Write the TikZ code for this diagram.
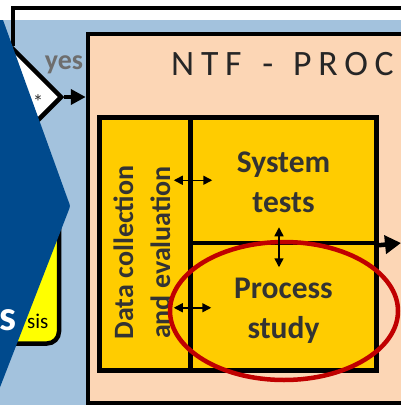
\documentclass[tikz,border=0pt]{standalone}
\usepackage{fontspec}
\setmainfont{Carlito}
\usetikzlibrary{shapes.geometric,arrows.meta,calc}
\definecolor{panelblue}{RGB}{163,194,221}
\definecolor{chevblue}{RGB}{0,74,141}
\definecolor{ntfpeach}{RGB}{252,214,181}
\definecolor{stageyellow}{RGB}{255,204,0}
\definecolor{memoyellow}{RGB}{255,255,0}
\definecolor{hlred}{RGB}{192,0,0}
\definecolor{yesgray}{RGB}{110,110,110}
\definecolor{textdark}{RGB}{51,51,51}
\definecolor{titlegray}{RGB}{38,38,38}

\begin{document}
\begin{tikzpicture}[x=1pt,y=-1pt]
		\tikzstyle{frame}=[draw, line width=4.5pt, inner sep=0pt];
		\tikzstyle{stage}=[frame, fill=stageyellow];
		\tikzstyle{stage_text}=[align=center, inner sep=0pt, text=textdark, font=\bfseries\fontsize{31.5}{40}\selectfont];
		\tikzstyle{link}=[line width=1.5pt, {Triangle[length=9pt,width=9pt]}-{Triangle[length=9pt,width=9pt]}];
		\tikzstyle{flow}=[line width=4.5pt];

		\useasboundingbox (0,0) rectangle (401,405);
		\clip (0,0) rectangle (401,405);
		\fill[white] (0,0) rectangle (401,20);
		\fill[panelblue] (0,20) rectangle (401,405);

		% process frame
		\node[frame, fill=ntfpeach, minimum width=332pt, minimum height=369pt] (ntf) at (254,218.5) {};
		\node[anchor=base west, inner sep=0pt, text=titlegray, font=\fontsize{35.7}{40}\selectfont\addfontfeature{LetterSpace=19}] (ntf_title) at (171,75) {NTF\hspace{6pt} -\hspace{5pt} PROC};

		\node[stage, minimum width=91pt, minimum height=253pt] (box_data) at (145,244) {};
		\node[stage, minimum width=186pt, minimum height=125.5pt] (box_sys) at (283.5,180.25) {};
		\node[stage, minimum width=186pt, minimum height=127.5pt] (box_proc) at (283.5,306.75) {};
		\node[stage_text, rotate=90, font=\bfseries\fontsize{28}{37}\selectfont] (txt_data) at (142,252.5) {Data collection\\and evaluation};
		\node[stage_text] (txt_sys) at (283.5,182) {System\\tests};
		\node[stage_text] (txt_proc) at (283.5,310.5) {Process\\study};

		\node[ellipse, draw=hlred, line width=4.5pt, inner sep=0pt, minimum width=228pt, minimum height=138pt] (focus) at (284,311) {};

		\draw[link] ($(box_data.east |- box_sys)+(-19,0)$) -- ($(box_sys.west)+(24,0)$);
		\draw[link] ($(box_data.east |- box_proc)+(-19,1)$) -- ($(box_proc.west)+(23,1)$);
		\draw[link] ($(box_sys.south)+(-4.5,-18)$) -- ($(box_sys.south)+(-4.5,22)$);
		\coordinate (out_end) at (401,243);
		\draw[flow, -{Triangle[length=16pt,width=18pt]}] (box_sys.south east) -- (out_end);

		% left side
		\node[frame, fill=memoyellow, rounded corners=12pt, minimum width=79pt, minimum height=153.5pt] (box_memo) at (19.5,266.75) {};
		\node[anchor=base west, inner sep=0pt, font=\fontsize{21}{24}\selectfont] (txt_memo) at (27,328) {sis};

		\node[frame, diamond, aspect=1, fill=white, minimum size=98pt] (check) at (13,97) {};
		\node[anchor=base, inner sep=0pt, text=textdark, font=\fontsize{21}{24}\selectfont] (check_mark) at (38,109) {*};
		\coordinate (loop_end) at (405,8);
		\draw[flow] (check.north) -- (check.north |- loop_end) -- (loop_end);
		\draw[flow, -{Triangle[length=15pt,width=15pt]}] (check.east) -- (check.east -| ntf.west);
		\node[anchor=base, inner sep=0pt, text=yesgray, font=\bfseries\fontsize{28}{30}\selectfont] (yes) at (64,69) {yes};

		\fill[chevblue] (-10,20) -- (3,20) -- (68,200) .. controls (70.5,206) .. (68,212) -- (-3,395) -- (-10,395) -- cycle;
		\node[anchor=base west, inner sep=0pt, text=white, font=\bfseries\fontsize{42.6}{45}\selectfont] (txt_chev) at (-1,330) {s};
	\end{tikzpicture}
\end{document}
